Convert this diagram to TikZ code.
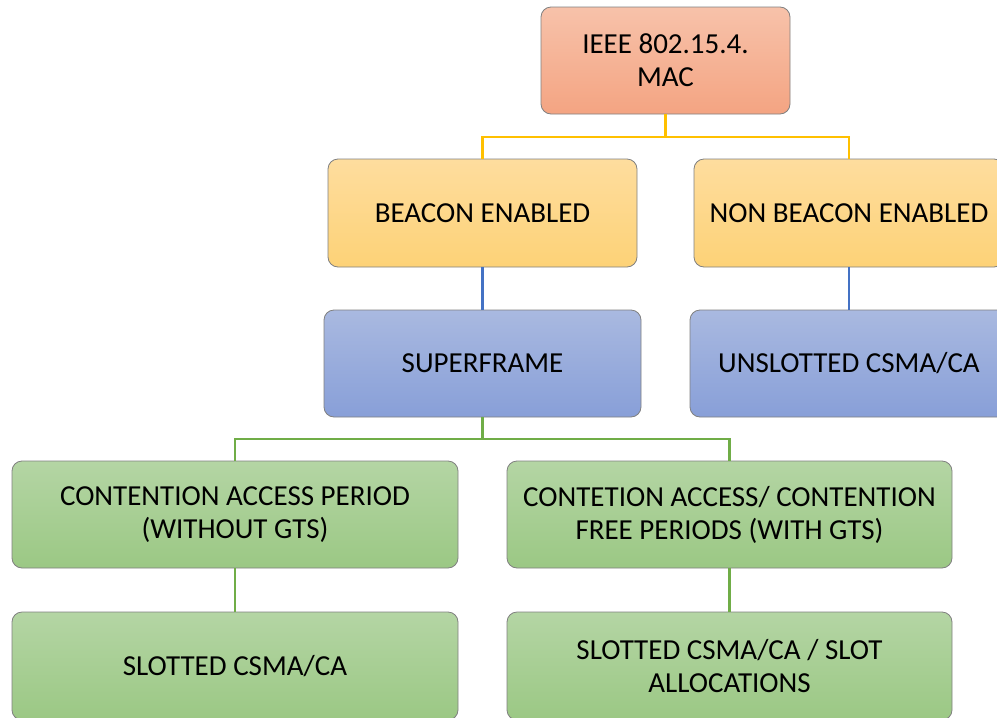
\documentclass[tikz,border=0pt]{standalone}
\usepackage{fontspec}
\setmainfont{Carlito}
\begin{document}
\begin{tikzpicture}[x=1pt,y=-1pt,
  box/.style={draw=black!50, line width=0.8pt, rounded corners=10pt,
    align=center, font=\fontsize{29}{33}\selectfont, inner sep=0pt},
  orangebox/.style={box, top color=orange1, bottom color=orange2},
  yellowbox/.style={box, top color=yellow1, bottom color=yellow2},
  bluebox/.style={box, top color=blue1, bottom color=blue2},
  greenbox/.style={box, top color=green1, bottom color=green2},
  yline/.style={draw=lineyellow, line width=2.5pt},
  bline/.style={draw=lineblue, line width=2.5pt},
  gline/.style={draw=linegreen, line width=2.5pt}]
\definecolor{orange1}{HTML}{F7C2AA}
\definecolor{orange2}{HTML}{F4A482}
\definecolor{yellow1}{HTML}{FEDD9E}
\definecolor{yellow2}{HTML}{FDD277}
\definecolor{blue1}{HTML}{A9B9E0}
\definecolor{blue2}{HTML}{889FD8}
\definecolor{green1}{HTML}{B4D5A4}
\definecolor{green2}{HTML}{9BC884}
\definecolor{lineyellow}{HTML}{FFC000}
\definecolor{lineblue}{HTML}{4472C4}
\definecolor{linegreen}{HTML}{70AD47}

\useasboundingbox (0,0) rectangle (997,718);
\begin{scope}
\clip (0,0) rectangle (997,718);

% heights of the horizontal bus lines
\coordinate (ybar) at (0,137);
\coordinate (gbar) at (0,439);

% boxes
\node[orangebox, minimum width=249pt, minimum height=107pt] (mac) at (665.5,60.5) {IEEE 802.15.4.\\MAC};
\node[yellowbox, minimum width=309pt, minimum height=108pt] (beacon) at (482.5,213) {BEACON ENABLED};
\node[yellowbox, minimum width=310pt, minimum height=108pt] (nonbeacon) at (849,213) {NON BEACON ENABLED};
\node[bluebox, minimum width=317pt, minimum height=107pt] (superframe) at (482.5,363.5) {SUPERFRAME};
\node[bluebox, minimum width=318pt, minimum height=107pt] (unslotted) at (849,363.5) {UNSLOTTED CSMA/CA};
\node[greenbox, minimum width=446pt, minimum height=107pt] (cap) at (235,514.5) {CONTENTION ACCESS PERIOD\\(WITHOUT GTS)};
\node[greenbox, minimum width=445pt, minimum height=107pt] (cfp) at (729.5,514.5) {CONTETION ACCESS/ CONTENTION\\FREE PERIODS (WITH GTS)};
\node[greenbox, minimum width=446pt, minimum height=108pt] (slotted) at (235,666) {SLOTTED CSMA/CA};
\node[greenbox, minimum width=445pt, minimum height=108pt] (slotalloc) at (729.5,666) {SLOTTED CSMA/CA / SLOT\\ALLOCATIONS};

% tree connectors
\draw[yline] (mac.south) -- (mac.south |- ybar) -| (beacon.north);
\draw[yline] (mac.south |- ybar) -| (nonbeacon.north);
\draw[bline] (beacon.south) -- (superframe.north);
\draw[bline] (nonbeacon.south) -- (unslotted.north);
\draw[gline] (superframe.south) -- (superframe.south |- gbar) -| (cap.north);
\draw[gline] (superframe.south |- gbar) -| (cfp.north);
\draw[gline] (cap.south) -- (slotted.north);
\draw[gline] (cfp.south) -- (slotalloc.north);
\end{scope}
\end{tikzpicture}
\end{document}
